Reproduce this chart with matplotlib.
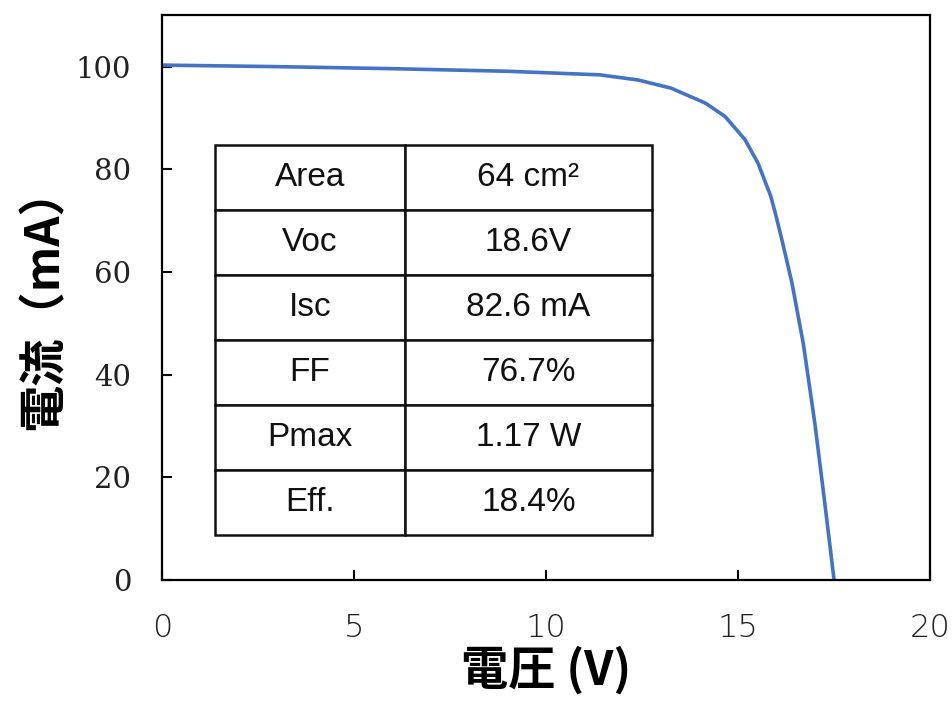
import matplotlib
matplotlib.use("Agg")
import matplotlib.pyplot as plt

# I-V curve
voltage = [0, 3, 6, 9, 11.4, 12.4, 13.26, 14.15, 14.66, 15.18, 15.52, 15.85,
           15.98, 16.15, 16.4, 16.7, 17.0, 17.25, 17.5]
current = [100.3, 100.0, 99.6, 99.1, 98.4, 97.4, 95.8, 92.9, 90.3, 85.8, 81.2, 74.8,
           71.2, 66.0, 58.0, 46.0, 30.5, 15.5, 0]

x_ticks = [0, 5, 10, 15, 20]
y_ticks = [0, 20, 40, 60, 80, 100]

table_labels = ["Area", "Voc", "Isc", "FF", "Pmax", "Eff."]
table_values = ["64 cm²", "18.6V", "82.6 mA", "76.7%", "1.17 W", "18.4%"]

fig = plt.figure(figsize=(9.52, 7.05), dpi=100)
ax = fig.add_axes([0.170, 0.1773, 0.807, 0.801])

ax.plot(voltage, current, color="#4472C4", lw=2.6, solid_capstyle="round",
        solid_joinstyle="round")
ax.set_xlim(0, 20)
ax.set_ylim(0, 110)
ax.set_xticks(x_ticks)
ax.set_yticks(y_ticks)

for s in ax.spines.values():
    s.set_linewidth(1.6)
ax.tick_params(direction="in", length=7, width=1.5)
ax.tick_params(axis="x", pad=24, labelsize=23, labelcolor="#222222")
ax.tick_params(axis="y", pad=22, labelsize=21, labelcolor="#222222")
for lab in ax.get_xticklabels():
    lab.set_family(["Liberation Sans Narrow", "DejaVu Sans"])
    lab.set_fontweight("light")
for lab in ax.get_yticklabels():
    lab.set_family("DejaVu Serif")

ax.set_xlabel("電圧 (V)", family=["Noto Sans CJK JP", "DejaVu Sans"],
              fontweight="bold", fontsize=34, labelpad=2)
ax.set_ylabel("電流（mA）", family=["Noto Sans CJK JP", "DejaVu Sans"],
              fontweight="bold", fontsize=34, labelpad=6)

cells = [[a, b] for a, b in zip(table_labels, table_values)]
tbl = ax.table(cellText=cells, cellLoc="center", colWidths=[0.435, 0.565],
               bbox=[0.069, 0.080, 0.569, 0.690])
tbl.auto_set_font_size(False)
tbl.set_fontsize(24)
for cell in tbl.get_celld().values():
    cell.set_linewidth(1.8)
    cell.set_edgecolor("#111111")
    cell.get_text().set_family(["Liberation Sans", "DejaVu Sans"])
    cell.get_text().set_color("#111111")

fig.savefig("out.png", dpi=100)
